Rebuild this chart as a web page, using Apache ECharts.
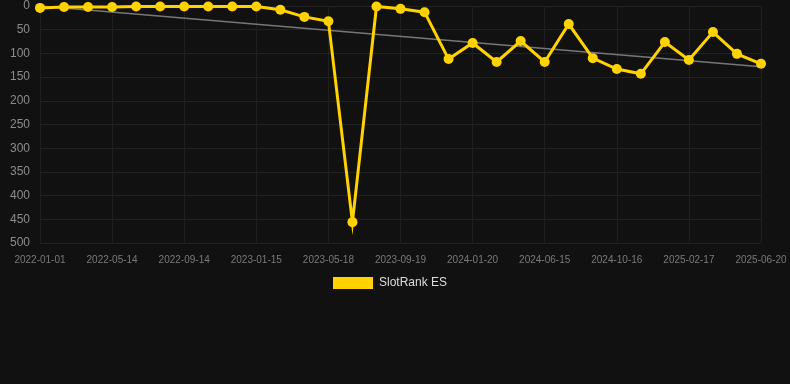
<!DOCTYPE html>
<html>
    <head>
        <meta charset="utf-8">
        <script src="https://cdn.jsdelivr.net/npm/echarts@6/dist/echarts.min.js"></script>
        <style>
            html, body {
                margin: 0;
                padding: 0;
                background-color: #111111;
            }
            #main {
                width: 790px;
                height: 384px;
            }
        </style>
    </head>
    <body>
        <div id="main"></div>

        <script>
        // categories (only every third date is shown as a label)
        const dates = [
            '2022-01-01', '2022-02-14', '2022-03-30', '2022-05-14', '2022-06-23', '2022-08-04',
            '2022-09-14', '2022-10-25', '2022-12-05', '2023-01-15', '2023-02-25', '2023-04-07',
            '2023-05-18', '2023-06-28', '2023-08-08', '2023-09-19', '2023-10-30', '2023-12-10',
            '2024-01-20', '2024-03-16', '2024-05-01', '2024-06-15', '2024-07-30', '2024-09-01',
            '2024-10-16', '2024-11-30', '2025-01-04', '2025-02-17', '2025-03-30', '2025-05-10',
            '2025-06-20'
        ];

        const rankES = [
            4, 2, 2, 2, 1, 1, 1, 1, 1, 1, 8, 23, 32, 456, 1, 6,
            13, 112, 78, 118, 74, 118, 38, 110, 133, 143, 76, 114, 55, 101, 122
        ];

        const trend = dates.map(function () { return null; });
        trend[0] = 0;
        trend[dates.length - 1] = 128;

        const yTicks = { min: 0, max: 500, interval: 50 };

        const chart = echarts.init(document.getElementById('main'));
        chart.setOption({
            backgroundColor: '#111111',
            animation: false,
            grid: {
                left: 40,
                right: 29,
                top: 6,
                bottom: 141
            },
            legend: {
                data: ['SlotRank ES'],
                top: 277,
                left: 333,
                icon: 'rect',
                itemWidth: 40,
                itemHeight: 12,
                padding: 0,
                textStyle: {
                    color: '#dddddd',
                    fontSize: 12,
                    padding: [0, 0, 0, 1],
                    fontFamily: 'Liberation Sans, Arial, sans-serif'
                }
            },
            xAxis: {
                type: 'category',
                data: dates,
                boundaryGap: false,
                axisLine: { show: false },
                axisTick: { show: false },
                axisLabel: {
                    interval: 2,
                    color: '#7a7a7a',
                    fontSize: 10,
                    margin: 12,
                    fontFamily: 'Liberation Sans, Arial, sans-serif'
                },
                splitLine: {
                    show: true,
                    interval: 2,
                    lineStyle: { color: '#1f1f1f', width: 1 }
                }
            },
            yAxis: {
                type: 'value',
                inverse: true,
                min: yTicks.min,
                max: yTicks.max,
                interval: yTicks.interval,
                axisLine: { show: false },
                axisTick: { show: false },
                axisLabel: {
                    color: '#8c8c8c',
                    fontSize: 12,
                    margin: 10,
                    fontFamily: 'Liberation Sans, Arial, sans-serif'
                },
                splitLine: {
                    lineStyle: { color: '#222222', width: 1 }
                }
            },
            series: [
                {
                    name: 'trend',
                    type: 'line',
                    data: trend,
                    connectNulls: true,
                    symbol: 'none',
                    z: 1,
                    lineStyle: { color: '#777777', width: 1.5 }
                },
                {
                    name: 'SlotRank ES',
                    type: 'line',
                    data: rankES,
                    symbol: 'circle',
                    symbolSize: 10,
                    z: 2,
                    itemStyle: { color: '#ffd200' },
                    lineStyle: { color: '#ffd200', width: 3, join: 'miter', miterLimit: 10 }
                }
            ]
        });
        </script>
    </body>
</html>
